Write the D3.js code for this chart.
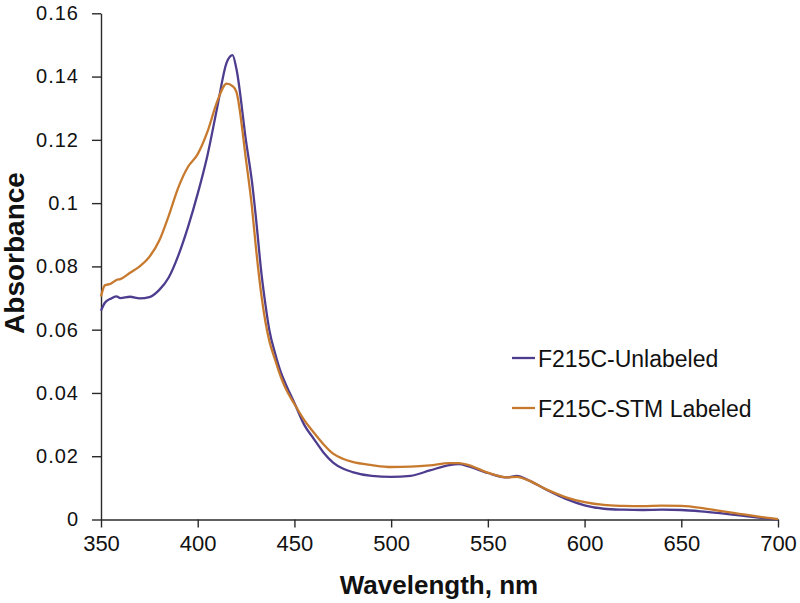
<!DOCTYPE html>
<html>
<head>
<meta charset="utf-8">
<script src="https://cdn.jsdelivr.net/npm/d3@7"></script>
<style>
  html, body { margin: 0; padding: 0; background: #fff; }
  svg { display: block; font-family: "Liberation Sans", Arial, Helvetica, sans-serif; }
</style>
</head>
<body>
<svg id="chart" width="800" height="603"></svg>
<script>
// ---- data ----
const wavelengths = [350, 352, 355, 358, 360, 365, 370, 375, 380, 385, 390, 395, 400, 405, 410, 415, 418, 420, 425, 428, 430, 433, 435, 437, 440, 443, 445, 450, 455, 460, 465, 470, 475, 480, 490, 500, 510, 520, 530, 535, 540, 550, 560, 565, 570, 580, 590, 600, 610, 620, 630, 640, 650, 660, 670, 680, 690, 700];

const unlabeled = [0.066, 0.0685, 0.0698, 0.0705, 0.0700, 0.0704, 0.0699, 0.0703, 0.0725, 0.0765, 0.0835, 0.0925, 0.1030, 0.1150, 0.1300, 0.1445, 0.1468, 0.1425, 0.1195, 0.1070, 0.0960, 0.0775, 0.0680, 0.0600, 0.0525, 0.0465, 0.0435, 0.0368, 0.0300, 0.0255, 0.0212, 0.0180, 0.0161, 0.0150, 0.0138, 0.0135, 0.0138, 0.0155, 0.0172, 0.0175, 0.0168, 0.0147, 0.0133, 0.0138, 0.0127, 0.0095, 0.0066, 0.0045, 0.0034, 0.0031, 0.0030, 0.0031, 0.0030, 0.0026, 0.0020, 0.0013, 0.0006, 0.0000];

const stmLabeled = [0.0705, 0.0740, 0.0745, 0.0757, 0.0760, 0.0780, 0.0800, 0.0830, 0.0880, 0.0960, 0.1050, 0.1115, 0.1155, 0.1225, 0.1320, 0.1378, 0.1370, 0.1352, 0.1135, 0.0990, 0.0865, 0.0705, 0.0625, 0.0565, 0.0505, 0.0450, 0.0420, 0.0365, 0.0315, 0.0275, 0.0238, 0.0208, 0.0192, 0.0182, 0.0172, 0.0166, 0.0167, 0.0171, 0.0178, 0.0178, 0.0172, 0.0148, 0.0133, 0.0135, 0.0126, 0.0096, 0.0071, 0.0055, 0.0046, 0.0043, 0.0042, 0.0044, 0.0043, 0.0037, 0.0027, 0.0018, 0.0009, 0.0001];

const seriesNames = ["F215C-Unlabeled", "F215C-STM Labeled"];
const seriesColors = ["#4e3d8e", "#c77a2e"];

const xTicks = [350, 400, 450, 500, 550, 600, 650, 700];
const yTicks = [0, 0.02, 0.04, 0.06, 0.08, 0.1, 0.12, 0.14, 0.16];
const yTickLabels = ["0", "0.02", "0.04", "0.06", "0.08", "0.1", "0.12", "0.14", "0.16"];

const xTitle = "Wavelength, nm";
const yTitle = "Absorbance";

// ---- drawing ----
const svg = d3.select("#chart");
const plotLeft = 101, plotRight = 778, plotTop = 13.3, plotBottom = 519.5;

const x = d3.scaleLinear().domain([350, 700]).range([plotLeft, plotRight]);
const y = d3.scaleLinear().domain([0, 0.16]).range([plotBottom, plotTop]);

const axisColor = "#2a2a2a";

// y axis
const yAxis = svg.append("g")
  .attr("transform", `translate(${plotLeft},0)`)
  .call(d3.axisLeft(y).tickValues(yTicks).tickSize(9).tickSizeOuter(0).tickPadding(13)
    .tickFormat((d, i) => yTickLabels[i]));
yAxis.selectAll("path, line").attr("stroke", axisColor).attr("stroke-width", 1.4);
yAxis.selectAll("text").attr("font-size", 20).attr("letter-spacing", "1px").attr("fill", "#111")
  .attr("font-family", "'Liberation Sans', Arial, sans-serif");

// x axis
const xAxis = svg.append("g")
  .attr("transform", `translate(0,${plotBottom})`)
  .call(d3.axisBottom(x).tickValues(xTicks).tickSize(8).tickSizeOuter(0).tickPadding(8)
    .tickFormat(d => String(d)));
xAxis.selectAll("path, line").attr("stroke", axisColor).attr("stroke-width", 1.4);
xAxis.selectAll("text").attr("font-size", 22).attr("fill", "#111")
  .attr("font-family", "'Liberation Sans', Arial, sans-serif");

// lines
const series = [unlabeled, stmLabeled];
const line = d3.line()
  .x((d, i) => x(wavelengths[i]))
  .y(d => y(d))
  .curve(d3.curveMonotoneX);

svg.append("g").selectAll("path.series")
  .data(series)
  .join("path")
  .attr("class", "series")
  .attr("fill", "none")
  .attr("stroke", (d, i) => seriesColors[i])
  .attr("stroke-width", 2.3)
  .attr("stroke-linejoin", "round")
  .attr("d", line);

// legend
const legendY = [358, 408];
const lg = svg.append("g");
seriesNames.forEach((name, i) => {
  lg.append("line")
    .attr("x1", 512).attr("x2", 535)
    .attr("y1", legendY[i]).attr("y2", legendY[i])
    .attr("stroke", seriesColors[i]).attr("stroke-width", 2.3);
  lg.append("text")
    .attr("x", 538).attr("y", legendY[i] + 8.5)
    .attr("font-size", 23).attr("fill", "#111")
    .text(name);
});

// axis titles
svg.append("text")
  .attr("x", 439).attr("y", 594)
  .attr("text-anchor", "middle")
  .attr("font-size", 26).attr("font-weight", "bold").attr("fill", "#111")
  .text(xTitle);

svg.append("text")
  .attr("transform", "translate(23.5,253) rotate(-90)")
  .attr("text-anchor", "middle")
  .attr("font-size", 28).attr("font-weight", "bold").attr("fill", "#111")
  .text(yTitle);
</script>
</body>
</html>
